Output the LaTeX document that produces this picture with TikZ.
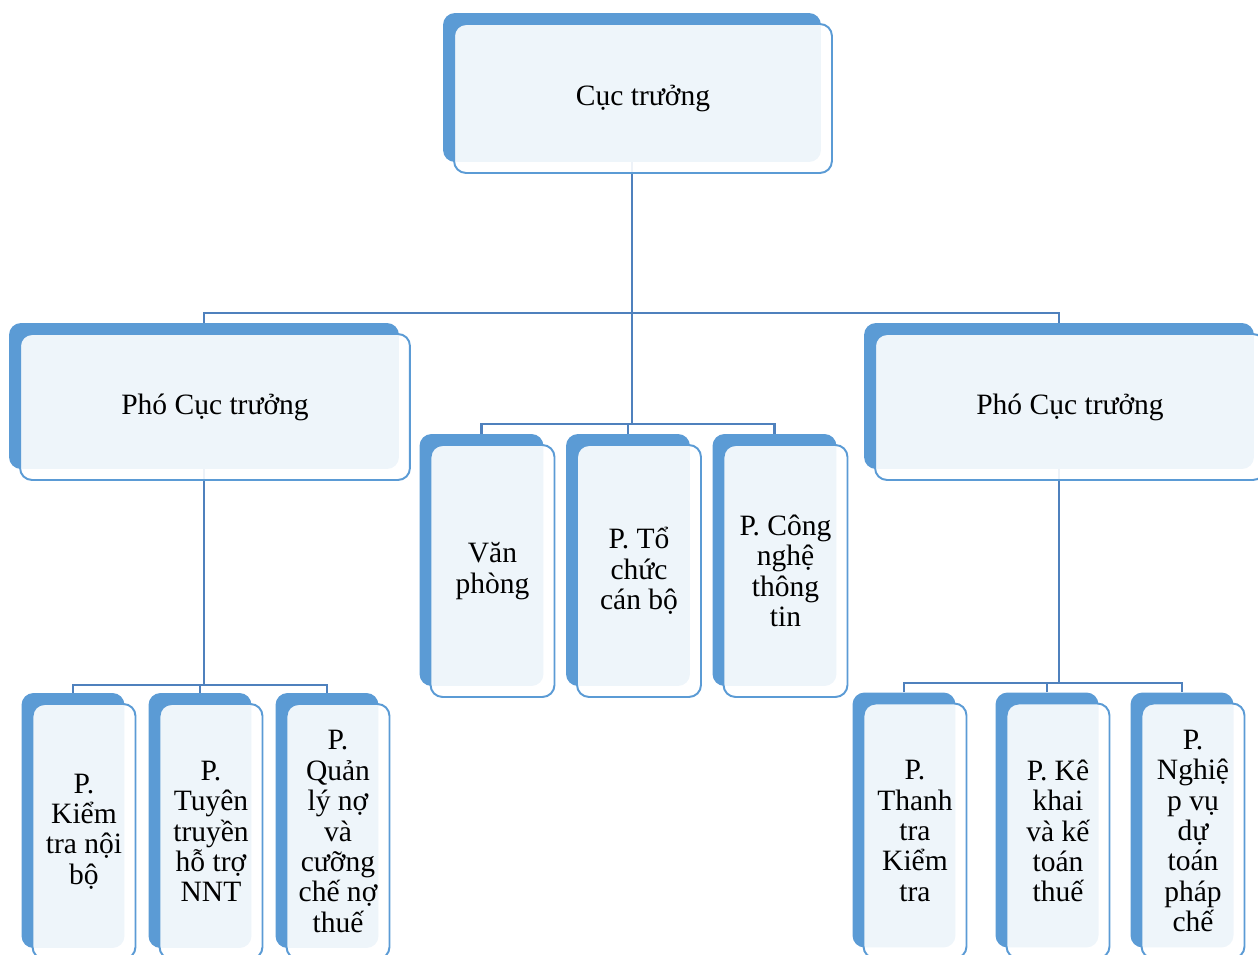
\documentclass[tikz,border=0pt]{standalone}
\usepackage{fontspec}
\setmainfont{Liberation Serif}
\usetikzlibrary{backgrounds}
\definecolor{unitblue}{HTML}{5B9BD5}
\definecolor{linkblue}{HTML}{4F81BD}

\begin{document}
\begin{tikzpicture}[x=0.02cm, y=-0.02cm,
    back/.style={fill=unitblue, rounded corners=0.24cm, inner sep=0pt},
    front/.style={draw=unitblue, line width=1.1pt, fill=white, fill opacity=0.9,
        text opacity=1, rounded corners=0.24cm, inner sep=0pt, align=center,
        font=\fontsize{16.8}{17.3}\selectfont},
    link/.style={draw=linkblue, line width=1.6pt}]
    \useasboundingbox (0,0) rectangle (1258,955);

    % Drawing unit Cuc truong
    \node[back, minimum width=7.56cm, minimum height=2.98cm] (chief) at (632,87.5) {};
    \node[front, minimum width=7.56cm, minimum height=2.98cm] (chieft) at (643,98.5) {Cục trưởng};

    % Drawing units Pho Cuc truong
    \node[back, minimum width=7.8cm, minimum height=2.92cm] (depl) at (204,396) {};
    \node[front, minimum width=7.8cm, minimum height=2.92cm] (deplt) at (215,407) {Phó Cục trưởng};
    \node[back, minimum width=7.8cm, minimum height=2.92cm] (depr) at (1059,396) {};
    \node[front, minimum width=7.8cm, minimum height=2.92cm] (deprt) at (1070,407) {Phó Cục trưởng};

    % Drawing units under Cuc truong
    \node[back, minimum width=2.48cm, minimum height=5.04cm] (vp) at (481.5,560) {};
    \node[front, minimum width=2.48cm, minimum height=5.04cm] (vpt) at (492.5,571) {Văn\\phòng};
    \node[back, minimum width=2.48cm, minimum height=5.04cm] (tccb) at (628,560) {};
    \node[front, minimum width=2.48cm, minimum height=5.04cm] (tccbt) at (639,571) {P. Tổ\\chức\\cán bộ};
    \node[back, minimum width=2.48cm, minimum height=5.04cm] (cntt) at (774.5,560) {};
    \node[front, minimum width=2.48cm, minimum height=5.04cm] (cnttt) at (785.5,571) {P. Công\\nghệ\\thông\\tin};

    % Drawing units under left Pho Cuc truong
    \node[back, minimum width=2.06cm, minimum height=5.1cm] (ktnb) at (73,820.5) {};
    \node[front, minimum width=2.06cm, minimum height=5.1cm] (ktnbt) at (84,831.5) {P.\\Kiểm\\tra nội\\bộ};
    \node[back, minimum width=2.06cm, minimum height=5.1cm] (tthc) at (200,820.5) {};
    \node[front, minimum width=2.06cm, minimum height=5.1cm] (tthct) at (211,831.5) {P.\\Tuyên\\truyền\\hỗ trợ\\NNT};
    \node[back, minimum width=2.06cm, minimum height=5.1cm] (qlno) at (327,820.5) {};
    \node[front, minimum width=2.06cm, minimum height=5.1cm] (qlnot) at (338,831.5) {P.\\Quản\\lý nợ\\và\\cưỡng\\chế nợ\\thuế};

    % Drawing units under right Pho Cuc truong
    \node[back, minimum width=2.06cm, minimum height=5.1cm] (ttkt) at (904,820) {};
    \node[front, minimum width=2.06cm, minimum height=5.1cm] (ttktt) at (915,831) {P.\\Thanh\\tra\\Kiểm\\tra};
    \node[back, minimum width=2.06cm, minimum height=5.1cm] (kkkt) at (1047,820) {};
    \node[front, minimum width=2.06cm, minimum height=5.1cm] (kkktt) at (1058,831) {P. Kê\\khai\\và kế\\toán\\thuế};
    \node[back, minimum width=2.06cm, minimum height=5.1cm] (nvdt) at (1182,820) {};
    \node[front, minimum width=2.06cm, minimum height=5.1cm] (nvdtt) at (1193,831) {P.\\Nghiệ\\p vụ\\dự\\toán\\pháp\\chế};

    % Drawing links
    \coordinate (topbus) at (632,313);
    \coordinate (midbus) at (632,424);
    \coordinate (lbus) at (204,685);
    \coordinate (rbus) at (1059,683);
    \begin{scope}[on background layer]
        \draw[link] (chief.south) -- (midbus);
        \draw[link] (depl.north) -- (depl.north |- topbus) -| (depr.north);
        \draw[link] (vp.north) -- (vp.north |- midbus) -| (cntt.north);
        \draw[link] (tccb.north) -- (tccb.north |- midbus);
        \draw[link] (depl.south) -- (lbus);
        \draw[link] (ktnb.north) -- (ktnb.north |- lbus) -| (qlno.north);
        \draw[link] (tthc.north) -- (tthc.north |- lbus);
        \draw[link] (depr.south) -- (rbus);
        \draw[link] (ttkt.north) -- (ttkt.north |- rbus) -| (nvdt.north);
        \draw[link] (kkkt.north) -- (kkkt.north |- rbus);
    \end{scope}
\end{tikzpicture}
\end{document}
